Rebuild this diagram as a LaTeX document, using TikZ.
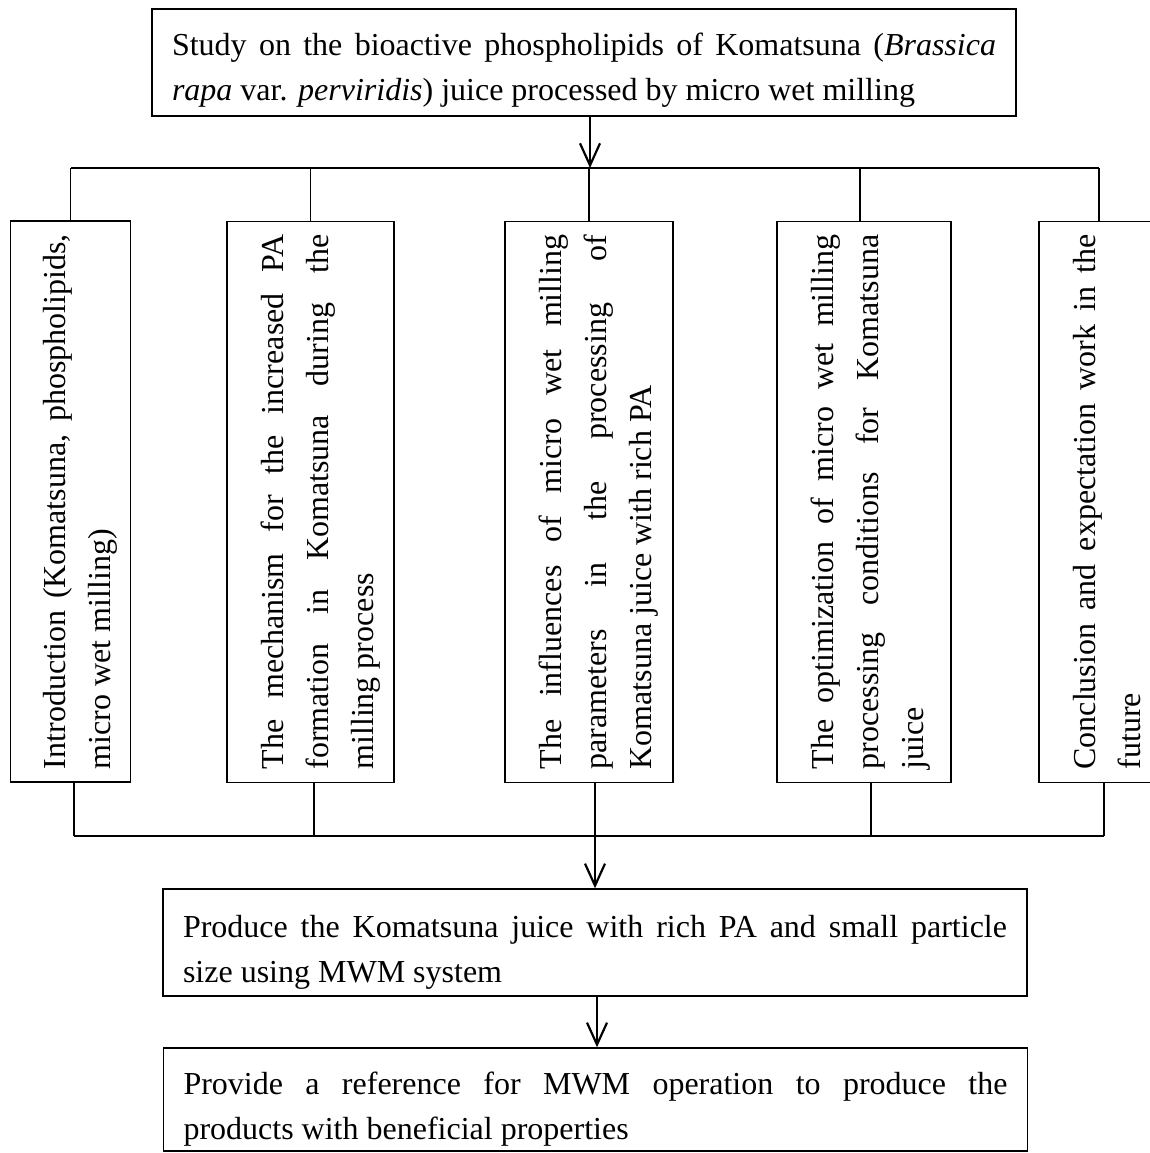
\documentclass[tikz,border=0pt]{standalone}
\usepackage{fontspec}
\setmainfont{Liberation Serif}
\usetikzlibrary{arrows.meta}
\hyphenpenalty=10000
\exhyphenpenalty=10000
\tolerance=9999
\newcommand\tallstrut{\rule{0pt}{42.5pt}}
\begin{document}
\begin{tikzpicture}[x=1pt,y=-1pt,
  txt/.style={font=\fontsize{32}{45}\selectfont},
  hbox/.style={txt, draw, line width=1.4pt, text width=824pt, align=justify,
    inner xsep=20pt, inner ysep=2pt, minimum height=107pt},
  vbox/.style={txt, draw, line width=1.4pt, rotate=90, text width=535pt,
    align=justify, inner xsep=13pt, inner ysep=2pt, minimum width=561pt},
  conn/.style={line width=1.4pt},
  bus/.style={line width=1.9pt},
  arr/.style={line width=1.4pt, -{Straight Barb[length=22pt,width=20pt,line width=2.2pt]}}
]
\useasboundingbox (0,0) rectangle (1150,1153);
\clip (0,0) rectangle (1150,1153);

% top box
\node[hbox] (top) at (584,62.5) {\rule{0pt}{38pt}Study on the bioactive phospholipids of Komatsuna (\textit{Brassica}\linebreak \textit{rapa} var. \textit{perviridis}) juice processed by micro wet milling};

% vertical boxes
\node[vbox, minimum height=120pt] (b1) at (70.7,501.5)
  {\tallstrut Introduction (Komatsuna, phospholipids,\linebreak micro wet milling)};
\node[vbox, minimum height=167pt] (b2) at (310.5,502)
  {\tallstrut The mechanism for the increased PA\linebreak formation in Komatsuna during the\linebreak milling process};
\node[vbox, minimum height=168pt] (b3) at (589,502)
  {\tallstrut The influences of micro wet milling\linebreak parameters in the processing of\linebreak Komatsuna juice with rich PA};
\node[vbox, minimum height=174pt] (b4) at (864,502)
  {\rule{0pt}{36pt}The optimization of micro wet milling\linebreak processing conditions for Komatsuna\linebreak juice};
\node[vbox, minimum height=120pt] (b5) at (1099,502)
  {\rule{0pt}{38.5pt}Conclusion and expectation work in the\linebreak future};

% lower boxes
\node[hbox] (prod) at (595,942.5) {\tallstrut Produce the Komatsuna juice with rich PA and small particle\linebreak size using MWM system};
\node[hbox, minimum height=103pt] (prov) at (595.5,1099.5) {\tallstrut Provide a reference for MWM operation to produce the\linebreak products with beneficial properties};

% buses
\coordinate (tl) at (71,168);
\coordinate (tr) at (1099,168);
\coordinate (bl) at (74,836);
\coordinate (br) at (1104,836);

\draw[arr] ([xshift=6pt]top.south) -- ([xshift=6pt]top.south |- tl);
\draw[bus] (tl) -- (tr);
\foreach \b/\s in {b1/0,b2/0,b3/0,b4/-4,b5/0}{
  \draw[conn] ([xshift=\s pt]\b.east) -- ([xshift=\s pt]\b.east |- tl);
}
\foreach \b/\s in {b1/3.3,b2/3.5,b3/6,b4/7,b5/5}{
  \draw[conn] ([xshift=\s pt]\b.west) -- ([xshift=\s pt]\b.west |- bl);
}
\draw[bus] (bl) -- (br);
\draw[arr] (prod.north |- bl) -- (prod.north);
\draw[arr] ([xshift=2pt]prod.south) -- ([xshift=2pt]prod.south |- prov.north);
\end{tikzpicture}
\end{document}
